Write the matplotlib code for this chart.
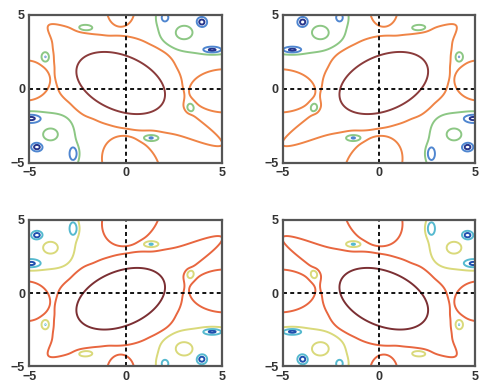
import numpy as np
import matplotlib
matplotlib.use("Agg")
import matplotlib.pyplot as plt

# ---------------------------------------------------------------------------
# contour levels (low -> high) and the line colours of the two rows
levels = [0.05, 0.12, 0.25, 0.50, 0.85]
colors_top = ["#27348b", "#4f86d0", "#8cc784", "#ef8446", "#8a3b3b"]
colors_bottom = ["#1f4fae", "#55b9cf", "#d9d97a", "#e8663f", "#7b2f33"]

# terrace heights of the surface
moat_level = 0.38      # white band between green and orange
lobe_rise = 0.27       # orange terrace
peak_rise = 0.35       # dark red core
low_drop = 0.20        # green-bounded corner basins

# main lobe outline: radius (data units) versus polar angle (deg) about its centre
lobe_center = (-0.25, 0.42)
lobe_angle = [0, 20, 40, 60, 85, 102, 115, 124, 130, 135, 139, 148, 162, 181,
              193, 208, 229, 240, 258, 276, 298, 310, 314, 320, 323, 325, 328,
              331, 337, 355]
lobe_radius = [3.15, 3.03, 3.10, 2.97, 3.10, 3.17, 3.55, 4.30, 5.05, 5.80, 4.60,
               4.10, 3.55, 3.30, 3.21, 2.96, 2.91, 2.81, 2.90, 3.10, 3.62, 4.48,
               5.20, 7.00, 7.50, 6.00, 4.20, 3.80, 3.54, 3.17]

# dark red core ellipse: centre, semi-axes, rotation (deg)
peak_x, peak_y = -0.25, 0.38
peak_rx, peak_ry, peak_rot = 2.65, 1.78, -38

# side lobes (orange islands)
side_x = [-5.20, 5.20, -0.25, 0.30]
side_y = [0.55, -0.15, 5.30, -5.30]
side_rx = [1.25, 1.85, 0.70, 1.40]
side_ry = [1.35, 1.45, 1.10, 2.15]
side_rot = [0, 0, 0, 20]

# corner basins (superellipses)
low_x = [-5.30, 5.30]
low_y = [-5.30, 5.30]
low_rx = [2.80, 3.75]
low_ry = [3.80, 3.00]
low_p = [5, 4]

# small rises inside the basins
rise_x = [-3.90, 3.05]
rise_y = [-3.10, 3.80]
rise_rx = [0.38, 0.43]
rise_ry = [0.40, 0.45]

# nulls inside the basins
null_x = [-4.90, -4.60, -2.65, 2.00, 3.96, 4.50]
null_y = [-2.00, -3.95, -4.40, 4.80, 4.50, 2.60]
null_rx = [0.55, 0.30, 0.28, 0.25, 0.28, 0.55]
null_ry = [0.33, 0.30, 0.60, 0.35, 0.35, 0.25]
null_depth = [0.16, 0.17, 0.17, 0.10, 0.17, 0.17]

# isolated nulls in the white band
dip_x = [-2.10, -4.15, 3.34, 1.33]
dip_y = [4.10, 2.15, -1.30, -3.33]
dip_rx = [0.40, 0.22, 0.22, 0.40]
dip_ry = [0.22, 0.35, 0.35, 0.22]
dip_depth = 0.28

ticks = [-5, 0, 5]


# ---------------------------------------------------------------------------
def ell_norm(X, Y, cx, cy, rx, ry, rot=0.0, p=2.0):
    t = np.radians(rot)
    dx, dy = X - cx, Y - cy
    u = dx * np.cos(t) + dy * np.sin(t)
    v = -dx * np.sin(t) + dy * np.cos(t)
    return (np.abs(u / rx) ** p + np.abs(v / ry) ** p) ** (1.0 / p)


def step(n, w=0.05):
    return 0.5 * (1.0 - np.tanh((n - 1.0) / (2.0 * w)))


def bell(n, height, edge):
    # equals `edge` on n == 1
    return height * np.exp(-np.log(height / edge) * n ** 2)


def lobe_outline():
    th = np.arange(0, 360, 0.5)
    r = np.interp(th, lobe_angle, lobe_radius, period=360)
    k = np.exp(-0.5 * (np.minimum(th, 360 - th) / 3.0) ** 2)
    k /= k.sum()
    r = np.real(np.fft.ifft(np.fft.fft(r) * np.fft.fft(k)))
    return th, r


TH, RAD = lobe_outline()


def surface(X, Y):
    dx, dy = X - lobe_center[0], Y - lobe_center[1]
    ang = np.degrees(np.arctan2(dy, dx)) % 360
    n_main = np.hypot(dx, dy) / np.interp(ang, TH, RAD, period=360)

    keep = 1.0 - step(n_main)
    for cx, cy, rx, ry, rot in zip(side_x, side_y, side_rx, side_ry, side_rot):
        keep *= 1.0 - step(ell_norm(X, Y, cx, cy, rx, ry, rot))
    s_lobe = 1.0 - keep

    s_peak = step(ell_norm(X, Y, peak_x, peak_y, peak_rx, peak_ry, peak_rot), 0.08)

    keep = np.ones_like(X)
    for cx, cy, rx, ry, p in zip(low_x, low_y, low_rx, low_ry, low_p):
        keep *= 1.0 - step(ell_norm(X, Y, cx, cy, rx, ry, 0, p))
    s_low = 1.0 - keep

    Z = moat_level + lobe_rise * s_lobe + peak_rise * s_peak - low_drop * s_low
    for cx, cy, rx, ry in zip(rise_x, rise_y, rise_rx, rise_ry):
        Z += bell(ell_norm(X, Y, cx, cy, rx, ry), 0.12, 0.07)
    for cx, cy, rx, ry, d in zip(null_x, null_y, null_rx, null_ry, null_depth):
        Z -= bell(ell_norm(X, Y, cx, cy, rx, ry), d, 0.06)
    for cx, cy, rx, ry in zip(dip_x, dip_y, dip_rx, dip_ry):
        Z -= bell(ell_norm(X, Y, cx, cy, rx, ry), dip_depth, 0.13)
    return Z


# ---------------------------------------------------------------------------
g = np.linspace(-5, 5, 501)
X, Y = np.meshgrid(g, g)

panels = [
    ([0.061, 0.580, 0.401, 0.382], surface(X, Y), colors_top),
    ([0.589, 0.580, 0.401, 0.382], surface(-X, Y), colors_top),
    ([0.061, 0.053, 0.401, 0.379], surface(X, -Y), colors_bottom),
    ([0.589, 0.053, 0.401, 0.379], surface(-X, -Y), colors_bottom),
]

fig = plt.figure(figsize=(4.8, 3.87), dpi=100)
for rect, Z, cols in panels:
    ax = fig.add_axes(rect)
    ax.contour(X, Y, Z, levels=levels, colors=cols, linewidths=1.4)
    ax.axhline(0, color="black", lw=1.3, ls=(0, (2.2, 1.8)))
    ax.axvline(0, color="black", lw=1.3, ls=(0, (2.2, 1.8)))
    ax.set_xlim(-5, 5)
    ax.set_ylim(-5, 5)
    ax.set_xticks(ticks)
    ax.set_yticks(ticks)
    ax.tick_params(length=0, pad=3, labelsize=9, labelcolor="#333333")
    for lab in ax.get_xticklabels() + ax.get_yticklabels():
        lab.set_fontweight("bold")
        lab.set_family("Liberation Sans")
    for sp in ax.spines.values():
        sp.set_color("#555555")
        sp.set_linewidth(1.6)

fig.savefig("out.png", dpi=100, facecolor="white")
